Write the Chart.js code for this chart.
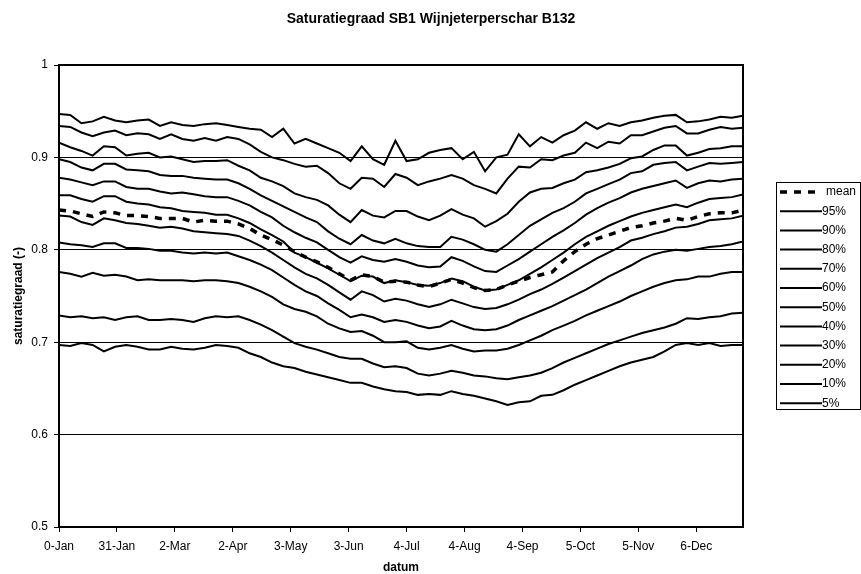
<!DOCTYPE html>
<html>
<head>
<meta charset="utf-8">
<title>Saturatiegraad SB1 Wijnjeterperschar B132</title>
<script src="https://cdn.jsdelivr.net/npm/chart.js@4.4.0/dist/chart.umd.min.js"></script>
<style>
  body { margin: 0; background: #fff; }
  canvas { display: block; }
</style>
</head>
<body>
<canvas id="myChart" width="861" height="574"></canvas>
<script>
// day number (0 = 0-Jan), one reading every 6 days
var days = [0, 6, 12, 18, 24, 30, 36, 42, 48, 54, 60, 66, 72, 78, 84, 90, 96, 102, 108, 114, 120,
  126, 132, 138, 144, 150, 156, 162, 168, 174, 180, 186, 192, 198, 204, 210, 216, 222, 228, 234, 240,
  246, 252, 258, 264, 270, 276, 282, 288, 294, 300, 306, 312, 318, 324, 330, 336, 342, 348, 354, 360, 366];

var tickDays = [0, 31, 62, 93, 124, 155, 186, 217, 248, 279, 310, 341];
var tickLabels = ["0-Jan", "31-Jan", "2-Mar", "2-Apr", "3-May", "3-Jun", "4-Jul", "4-Aug", "4-Sep", "5-Oct", "5-Nov", "6-Dec"];

var seriesNames = ["mean", "95%", "90%", "80%", "70%", "60%", "50%", "40%", "30%", "20%", "10%", "5%"];

var mean = [0.843, 0.842, 0.839, 0.836, 0.841, 0.840, 0.837, 0.837, 0.836, 0.834, 0.834,
  0.834, 0.830, 0.832, 0.831, 0.831, 0.828, 0.823, 0.816, 0.811, 0.805,
  0.798, 0.792, 0.787, 0.781, 0.774, 0.767, 0.773, 0.771, 0.765, 0.766,
  0.765, 0.762, 0.760, 0.764, 0.768, 0.764, 0.759, 0.756, 0.757, 0.762, 0.766,
  0.770, 0.773, 0.776, 0.788, 0.798, 0.806, 0.812, 0.816, 0.820, 0.824,
  0.826, 0.829, 0.831, 0.834, 0.832, 0.836, 0.839, 0.840, 0.840, 0.843];
var p95 = [0.947, 0.946, 0.937, 0.939, 0.944, 0.940, 0.938, 0.940, 0.941, 0.934, 0.938,
  0.935, 0.934, 0.936, 0.937, 0.935, 0.933, 0.931, 0.930, 0.922, 0.931,
  0.915, 0.920, 0.915, 0.910, 0.905, 0.896, 0.912, 0.898, 0.892, 0.918,
  0.896, 0.898, 0.905, 0.908, 0.910, 0.898, 0.906, 0.885, 0.900, 0.903, 0.925,
  0.912, 0.922, 0.916, 0.924, 0.929, 0.938, 0.931, 0.937, 0.934, 0.938,
  0.940, 0.943, 0.945, 0.946, 0.938, 0.939, 0.941, 0.944, 0.943, 0.945];
var p90 = [0.934, 0.933, 0.927, 0.923, 0.927, 0.929, 0.924, 0.926, 0.925, 0.920, 0.925,
  0.920, 0.918, 0.921, 0.918, 0.922, 0.920, 0.914, 0.906, 0.900, 0.897,
  0.893, 0.890, 0.891, 0.883, 0.872, 0.866, 0.878, 0.877, 0.868, 0.882,
  0.878, 0.870, 0.874, 0.877, 0.881, 0.877, 0.870, 0.866, 0.861, 0.877, 0.890,
  0.889, 0.898, 0.897, 0.902, 0.905, 0.916, 0.910, 0.917, 0.915, 0.924,
  0.924, 0.928, 0.932, 0.934, 0.926, 0.926, 0.930, 0.933, 0.931, 0.932];
var p80 = [0.916, 0.911, 0.907, 0.902, 0.912, 0.911, 0.902, 0.904, 0.905, 0.900, 0.901,
  0.898, 0.895, 0.896, 0.896, 0.897, 0.891, 0.886, 0.878, 0.874, 0.869,
  0.861, 0.857, 0.854, 0.848, 0.838, 0.830, 0.843, 0.837, 0.835, 0.842,
  0.842, 0.836, 0.832, 0.837, 0.844, 0.838, 0.834, 0.825, 0.831, 0.839, 0.852,
  0.862, 0.866, 0.867, 0.872, 0.876, 0.884, 0.886, 0.889, 0.893, 0.899,
  0.901, 0.908, 0.913, 0.913, 0.902, 0.905, 0.909, 0.910, 0.912, 0.912];
var p70 = [0.898, 0.895, 0.889, 0.886, 0.893, 0.893, 0.887, 0.886, 0.885, 0.881, 0.880,
  0.880, 0.878, 0.877, 0.876, 0.876, 0.872, 0.866, 0.859, 0.853, 0.847,
  0.841, 0.835, 0.830, 0.820, 0.812, 0.806, 0.816, 0.810, 0.807, 0.812,
  0.807, 0.804, 0.803, 0.803, 0.814, 0.811, 0.806, 0.800, 0.798, 0.806, 0.816,
  0.826, 0.833, 0.840, 0.845, 0.852, 0.861, 0.866, 0.871, 0.876, 0.883,
  0.885, 0.892, 0.894, 0.895, 0.886, 0.890, 0.894, 0.893, 0.894, 0.895];
var p60 = [0.878, 0.876, 0.873, 0.870, 0.874, 0.874, 0.868, 0.866, 0.866, 0.863, 0.861,
  0.862, 0.860, 0.858, 0.857, 0.857, 0.853, 0.848, 0.841, 0.835, 0.826,
  0.819, 0.813, 0.808, 0.800, 0.792, 0.786, 0.793, 0.789, 0.787, 0.790,
  0.787, 0.783, 0.781, 0.782, 0.792, 0.788, 0.782, 0.777, 0.776, 0.783, 0.790,
  0.798, 0.806, 0.814, 0.821, 0.829, 0.838, 0.845, 0.851, 0.856, 0.862,
  0.866, 0.869, 0.872, 0.875, 0.867, 0.872, 0.875, 0.874, 0.876, 0.877];
var p50 = [0.859, 0.859, 0.855, 0.852, 0.858, 0.858, 0.852, 0.850, 0.849, 0.846, 0.845,
  0.842, 0.841, 0.840, 0.838, 0.838, 0.834, 0.829, 0.822, 0.816, 0.809,
  0.797, 0.792, 0.786, 0.780, 0.773, 0.766, 0.772, 0.771, 0.764, 0.767,
  0.765, 0.762, 0.761, 0.764, 0.769, 0.766, 0.760, 0.756, 0.757, 0.762, 0.767,
  0.774, 0.781, 0.789, 0.797, 0.806, 0.814, 0.820, 0.826, 0.831, 0.836,
  0.840, 0.843, 0.846, 0.849, 0.846, 0.851, 0.855, 0.856, 0.857, 0.860];
var p40 = [0.837, 0.836, 0.830, 0.827, 0.834, 0.832, 0.829, 0.828, 0.826, 0.824, 0.825,
  0.823, 0.820, 0.819, 0.818, 0.817, 0.815, 0.810, 0.804, 0.797, 0.789,
  0.781, 0.774, 0.769, 0.762, 0.754, 0.746, 0.755, 0.751, 0.744, 0.747,
  0.745, 0.741, 0.738, 0.741, 0.746, 0.742, 0.738, 0.736, 0.737, 0.741, 0.746,
  0.752, 0.757, 0.763, 0.770, 0.777, 0.784, 0.791, 0.797, 0.803, 0.810,
  0.813, 0.817, 0.820, 0.824, 0.825, 0.828, 0.832, 0.833, 0.834, 0.837];
var p30 = [0.808, 0.806, 0.805, 0.803, 0.807, 0.807, 0.802, 0.802, 0.801, 0.799, 0.799,
  0.797, 0.796, 0.797, 0.796, 0.797, 0.793, 0.789, 0.784, 0.778, 0.770,
  0.762, 0.755, 0.750, 0.742, 0.735, 0.727, 0.730, 0.727, 0.722, 0.724,
  0.722, 0.718, 0.715, 0.717, 0.723, 0.718, 0.714, 0.713, 0.714, 0.718, 0.724,
  0.729, 0.734, 0.739, 0.745, 0.751, 0.757, 0.764, 0.771, 0.777, 0.783,
  0.790, 0.795, 0.798, 0.800, 0.799, 0.801, 0.803, 0.804, 0.806, 0.809];
var p20 = [0.776, 0.774, 0.771, 0.775, 0.772, 0.773, 0.771, 0.767, 0.768, 0.767, 0.767,
  0.767, 0.766, 0.767, 0.767, 0.766, 0.764, 0.760, 0.755, 0.749, 0.741,
  0.736, 0.733, 0.728, 0.720, 0.715, 0.711, 0.712, 0.707, 0.700, 0.700,
  0.701, 0.694, 0.692, 0.694, 0.697, 0.693, 0.690, 0.691, 0.691, 0.693, 0.697,
  0.702, 0.707, 0.713, 0.718, 0.723, 0.729, 0.734, 0.739, 0.744, 0.750,
  0.755, 0.760, 0.764, 0.767, 0.768, 0.771, 0.771, 0.774, 0.776, 0.776];
var p10 = [0.729, 0.727, 0.728, 0.726, 0.727, 0.724, 0.727, 0.728, 0.724, 0.724, 0.725,
  0.724, 0.722, 0.726, 0.728, 0.727, 0.728, 0.724, 0.719, 0.713, 0.706,
  0.699, 0.695, 0.692, 0.688, 0.684, 0.682, 0.682, 0.677, 0.673, 0.674,
  0.672, 0.666, 0.664, 0.666, 0.669, 0.667, 0.664, 0.663, 0.661, 0.660, 0.662,
  0.664, 0.667, 0.672, 0.678, 0.683, 0.688, 0.693, 0.698, 0.702, 0.706,
  0.710, 0.713, 0.716, 0.720, 0.726, 0.725, 0.727, 0.728, 0.731, 0.732];
var p5 = [0.697, 0.696, 0.699, 0.697, 0.690, 0.695, 0.697, 0.695, 0.692, 0.692, 0.695,
  0.693, 0.692, 0.694, 0.697, 0.696, 0.694, 0.688, 0.684, 0.678, 0.674,
  0.672, 0.668, 0.665, 0.662, 0.659, 0.656, 0.656, 0.652, 0.649, 0.647,
  0.646, 0.643, 0.644, 0.643, 0.647, 0.644, 0.642, 0.639, 0.636, 0.632, 0.635,
  0.636, 0.642, 0.643, 0.648, 0.654, 0.659, 0.664, 0.669, 0.674, 0.678,
  0.681, 0.684, 0.690, 0.697, 0.699, 0.697, 0.699, 0.696, 0.697, 0.697];

var seriesValues = [mean, p95, p90, p80, p70, p60, p50, p40, p30, p20, p10, p5];

var FONT = '"Liberation Sans", Arial, sans-serif';

function points(values) {
  return days.map(function (d, i) { return { x: d, y: values[i] }; });
}

var datasets = seriesNames.map(function (name, k) {
  var isMean = k === 0;
  return {
    label: name,
    data: points(seriesValues[k]),
    borderColor: "#000",
    backgroundColor: "#000",
    borderWidth: isMean ? 3.5 : 2,
    borderDash: isMean ? [7, 7] : [],
    pointRadius: 0,
    tension: 0,
    order: isMean ? 0 : 1 // mean drawn on top
  };
});

// frame, titles and the boxed legend on the right
var decorations = {
  id: "decorations",
  afterDatasetsDraw: function (chart) {
    var a = chart.chartArea, ctx = chart.ctx;
    ctx.save();
    ctx.strokeStyle = "#000";
    ctx.lineWidth = 2;
    ctx.strokeRect(a.left, a.top, a.right - a.left, a.bottom - a.top);
    ctx.restore();
  },
  afterDraw: function (chart) {
    var a = chart.chartArea, ctx = chart.ctx;
    ctx.save();
    ctx.fillStyle = "#000";
    ctx.textBaseline = "middle";

    ctx.font = "bold 14px " + FONT;
    ctx.textAlign = "center";
    ctx.fillText("Saturatiegraad SB1 Wijnjeterperschar B132", 431, 19);

    ctx.font = "bold 12px " + FONT;
    ctx.fillText("datum", (a.left + a.right) / 2, 568);

    ctx.save();
    ctx.translate(19, (a.top + a.bottom) / 2);
    ctx.rotate(-Math.PI / 2);
    ctx.fillText("saturatiegraad (-)", 0, 0);
    ctx.restore();

    // legend
    ctx.strokeStyle = "#000";
    ctx.lineWidth = 1;
    ctx.strokeRect(776.5, 182.5, 84, 227);
    ctx.font = "12px " + FONT;
    ctx.textAlign = "left";
    chart.data.datasets.forEach(function (ds, i) {
      var y = 192 + i * 19.2;
      ctx.beginPath();
      ctx.lineWidth = ds.borderWidth;
      ctx.setLineDash(ds.borderDash);
      ctx.moveTo(780, y);
      ctx.lineTo(822, y);
      ctx.stroke();
      ctx.setLineDash([]);
      ctx.fillText(ds.label, i === 0 ? 826 : 822, y);
    });
    ctx.restore();
  }
};

new Chart("myChart", {
  type: "line",
  data: { datasets: datasets },
  options: {
    responsive: false,
    animation: false,
    layout: { padding: { top: 65, right: 118, left: 0, bottom: 0 } },
    plugins: {
      legend: { display: false },
      title: { display: false },
      tooltip: { enabled: false }
    },
    scales: {
      x: {
        type: "linear",
        min: 0,
        max: 366,
        afterBuildTicks: function (scale) {
          scale.ticks = tickDays.map(function (v) { return { value: v }; });
        },
        afterFit: function (scale) { scale.height = 47; },
        border: { display: false },
        grid: { drawOnChartArea: false, color: "#000", tickLength: 5, lineWidth: 1 },
        ticks: {
          autoSkip: false,
          maxRotation: 0,
          padding: 7,
          color: "#000",
          font: { family: FONT, size: 12 },
          callback: function (v, i) { return tickLabels[i]; }
        }
      },
      y: {
        min: 0.5,
        max: 1,
        afterFit: function (scale) { scale.width = 59; },
        border: { display: false },
        grid: { color: "#000", tickLength: 5, lineWidth: 1 },
        ticks: {
          stepSize: 0.1,
          padding: 6,
          color: "#000",
          font: { family: FONT, size: 12 },
          callback: function (v) { return Math.abs(v - 1) < 1e-9 ? "1" : v.toFixed(1); }
        }
      }
    }
  },
  plugins: [decorations]
});
</script>
</body>
</html>
